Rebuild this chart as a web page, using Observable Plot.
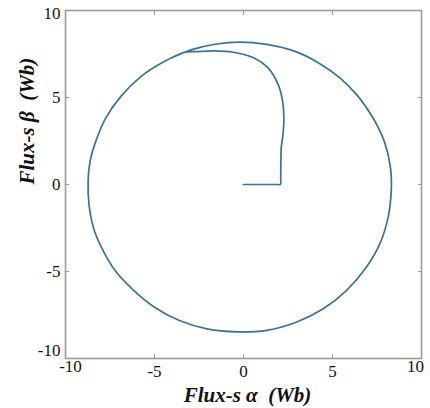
<!DOCTYPE html>
<html>
<head>
<meta charset="utf-8">
<script src="https://cdn.jsdelivr.net/npm/d3@7"></script>
<script src="https://cdn.jsdelivr.net/npm/@observablehq/plot@0.6"></script>
<style>
  html, body { margin: 0; padding: 0; background: #fff; }
  #chart svg { display: block; }
</style>
</head>
<body>
<div id="chart"></div>
<script>
// Stator flux trajectory in the α-β plane (Wb): start-up from the origin,
// then the steady circular locus traced counter-clockwise.
const fluxAlpha = [
  0, 1.0, 1.9, 2.08, 2.09, 2.10, 2.12, 2.22, 2.27, 2.20, 1.96, 1.40, 0.56, -0.56, -1.68, -2.61,
  -3.30, -4.48, -5.78, -6.90, -7.74, -8.30, -8.62, -8.73, -8.68, -8.43, -7.98, -7.25, -6.20, -5.00,
  -3.60, -2.05, -0.37, 1.31, 2.99, 4.48, 5.78, 6.90, 7.65, 8.12, 8.30, 8.26, 7.92, 7.28, 6.45,
  5.45, 4.20, 2.90, 1.30, -0.20, -1.60, -2.90, -4.10
];
const fluxBeta = [
  0, 0, 0, 0, 0.4, 1.2, 2.1, 2.9, 3.81, 4.76, 5.71, 6.67, 7.28, 7.60, 7.68, 7.64,
  7.60, 7.05, 6.19, 5.05, 3.81, 2.48, 1.33, 0.19, -1.14, -2.48, -3.62, -4.90, -6.05, -7.05,
  -7.82, -8.30, -8.47, -8.38, -7.90, -7.14, -6.10, -4.76, -3.43, -1.90, -0.38, 0.95, 2.45, 3.82, 5.05,
  6.10, 7.00, 7.65, 8.05, 8.18, 8.06, 7.75, 7.25
];

const xTicks = [-10, -5, 0, 5, 10];
const yTicks = [-10, -5, 0, 5, 10];
const xInnerTicks = [-5, 0, 5];
const yInnerTicks = [-5, 0, 5];
const xTitle = "Flux-s α\u00a0\u00a0(Wb)";
const yTitle = "Flux-s β\u00a0\u00a0(Wb)";

const trajectory = fluxAlpha.map((a, i) => ({alpha: a, beta: fluxBeta[i]}));

const serif = "'Liberation Serif', 'Times New Roman', serif";
const frameGray = "#9a9a9a";
const tickFont = 17;
const plain = (d) => String(d); // hyphen-minus, as in "-10"

const chart = Plot.plot({
  width: 430,
  height: 408,
  marginLeft: 65,
  marginRight: 9,
  marginTop: 10,
  marginBottom: 50,
  style: {fontFamily: serif, background: "#fff", color: "#111"},
  x: {domain: [-10, 10]},
  y: {domain: [-10, 10]},
  marks: [
    Plot.frame({stroke: frameGray, strokeWidth: 1.6}),
    // inward tick marks on all four sides
    Plot.axisX(xTicks, {anchor: "bottom", tickSize: -4, tickFormat: () => "", stroke: frameGray, label: null}),
    Plot.axisX(xTicks, {anchor: "top", tickSize: -4, tickFormat: () => "", stroke: frameGray, label: null}),
    Plot.axisY(yTicks, {anchor: "left", tickSize: -4, tickFormat: () => "", stroke: frameGray, label: null}),
    Plot.axisY(yTicks, {anchor: "right", tickSize: -4, tickFormat: () => "", stroke: frameGray, label: null}),
    // tick labels
    Plot.axisX(xInnerTicks, {anchor: "bottom", tickSize: 0, tickPadding: 6, tickFormat: plain, fontSize: tickFont, fill: "#111", label: null}),
    Plot.axisX([-10], {anchor: "bottom", tickSize: 0, tickPadding: 1, dx: 5, tickFormat: plain, fontSize: tickFont, fill: "#111", label: null}),
    Plot.axisX([10], {anchor: "bottom", tickSize: 0, tickPadding: 1, dx: -6, tickFormat: plain, fontSize: tickFont, fill: "#111", label: null}),
    Plot.axisY(yInnerTicks, {anchor: "left", tickSize: 0, tickPadding: 5, tickFormat: plain, fontSize: tickFont, fill: "#111", label: null}),
    Plot.axisY([10], {anchor: "left", tickSize: 0, tickPadding: 5, dy: 3, tickFormat: plain, fontSize: tickFont, fill: "#111", label: null}),
    Plot.axisY([-10], {anchor: "left", tickSize: 0, tickPadding: 5, dy: -8, tickFormat: plain, fontSize: tickFont, fill: "#111", label: null}),
    // axis titles
    Plot.text([xTitle], {frameAnchor: "bottom", lineAnchor: "bottom", dy: 43, dx: 4,
      fontSize: 21, fontWeight: "bold", fontStyle: "italic", fill: "#111"}),
    Plot.text([yTitle], {frameAnchor: "left", lineAnchor: "bottom", rotate: -90, dx: -32, dy: 0,
      fontSize: 21, fontWeight: "bold", fontStyle: "italic", fill: "#111"}),
    // flux trajectory
    Plot.line(trajectory, {x: "alpha", y: "beta", curve: "catmull-rom",
      stroke: "#3b7299", strokeWidth: 1.7, strokeLinejoin: "round"})
  ]
});

document.getElementById("chart").appendChild(chart);
</script>
</body>
</html>
